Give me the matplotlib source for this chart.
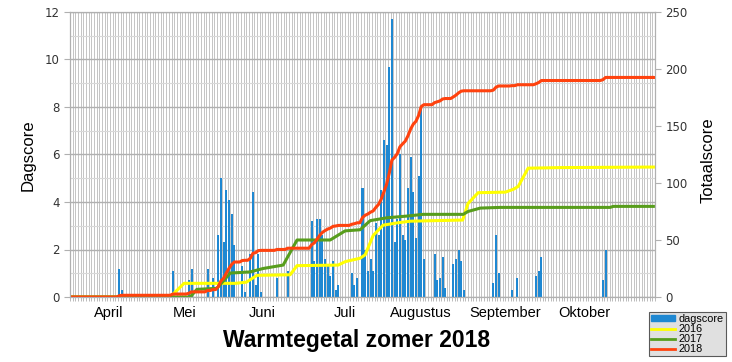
import numpy as np
import matplotlib
matplotlib.use("Agg")
from matplotlib import pyplot as plt
from matplotlib.patches import Patch
from matplotlib.lines import Line2D

#####################################################
#  data (day 0 = start of the x axis, end of March)
#####################################################
ndays = 219

# dagscore 2018 (bars)
bar_days = [18, 19, 38, 44, 45, 51, 53, 55, 56, 57, 58, 59, 60, 61,
            64, 65, 67, 68, 69, 70, 71, 77, 81,
            90, 91, 92, 93, 94, 95, 96, 97, 98, 99, 100,
            105, 106, 107, 109, 110, 111, 112, 113, 114, 115, 116, 117, 118, 119, 120,
            121, 122, 123, 124, 125, 126, 127, 128, 129, 130, 131, 132,
            136, 137, 138, 139, 140, 143, 144, 145, 146, 147,
            158, 159, 160, 165, 167, 174, 175, 176, 199, 200]
bar_score = [1.2, 0.3, 1.1, 0.7, 1.2, 1.2, 0.8, 2.6, 5.0, 2.3, 4.5, 4.1, 3.5, 2.2,
             1.3, 0.2, 1.8, 4.4, 0.5, 1.8, 0.2, 0.8, 1.1,
             3.2, 1.5, 3.3, 3.3, 2.6, 1.6, 1.3, 0.9, 1.5, 0.3, 0.5,
             1.0, 0.5, 0.8, 4.6, 2.0, 1.1, 1.6, 1.1, 3.1, 2.6, 4.5, 6.6, 6.4, 9.7, 11.7,
             2.3, 3.3, 6.0, 2.6, 2.4, 4.6, 5.9, 4.4, 2.5, 5.1, 7.9, 1.6,
             1.8, 0.7, 0.8, 1.7, 0.4, 1.4, 1.6, 2.0, 1.5, 0.3,
             0.6, 2.6, 1.0, 0.3, 0.8, 0.9, 1.1, 1.7, 0.7, 2.0]

# totaalscore 2016 and 2017
days_2016 = [0, 37.5, 42.7, 62, 66, 70, 82.4, 85, 100.4, 103, 108.6, 110.5, 113.5,
             117.2, 122.5, 127.3, 147, 149, 152.8, 163, 166, 167.8, 171.5, 183.5, 218.4]
tot_2016 = [0, 0, 12, 12, 13, 19, 19.5, 27.5, 28, 31, 34, 37, 54,
            63, 65, 66.5, 67.5, 82, 91.5, 92, 94.5, 97, 113, 113.5, 114]

days_2017 = [0, 45, 47.5, 55, 60, 67.4, 72.3, 79.8, 85, 97.4, 103, 108.6, 112.4,
             118.7, 126.2, 132.2, 147.2, 149, 153.6, 161, 202.2, 203.4, 218.4]
tot_2017 = [0, 0, 6.7, 7.6, 21, 22, 25, 28, 50, 50, 58, 59, 67,
            69.5, 71, 72.5, 72.5, 75, 78, 78.6, 78.6, 79.5, 79.5]

months = ["April", "Mei", "Juni", "Juli", "Augustus", "September", "Oktober"]
month_pos = [14.6, 43, 71.9, 103, 131.5, 162.9, 192.5]

# 2018 total = running sum of the daily scores
daily = np.zeros(ndays)
daily[bar_days] = bar_score
tot_2018 = np.cumsum(daily)

#####################################################
#  plot
#####################################################
blue = "#1f88d2"
yellow = "#ffff00"
green = "#579d1c"
red = "#ff420e"

fig = plt.figure(figsize=(7.32, 3.62), dpi=100)
ax = fig.add_axes([70/732, 1-297/362, 585/732, 285/362])
ax2 = ax.twinx()

# grid
ax.set_axisbelow(True)
for d in range(ndays + 1):
    ax.axvline(d, color="#c4c4c4", lw=0.7, zorder=0)
for v in range(0, 13):
    if v % 2 == 0:
        ax.axhline(v, color="#b0b0b0", lw=1.0, zorder=0)
    else:
        ax.axhline(v, color="#d8d8d8", lw=0.8, zorder=0)

ax.bar(np.array(bar_days) + 0.5, bar_score, width=0.75, color=blue, zorder=2)

x = np.arange(ndays) + 0.5
ax2.plot(days_2016, tot_2016, color=yellow, lw=2.2, solid_joinstyle="round")
ax2.plot(days_2017, tot_2017, color=green, lw=2.2, solid_joinstyle="round")
ax2.plot(np.r_[0, x, ndays - 0.6], np.r_[0, tot_2018, tot_2018[-1]], color=red, lw=2.2,
         solid_joinstyle="round")

ax.set_xlim(0, ndays)
ax.set_ylim(0, 12)
ax2.set_ylim(0, 250)
ax.set_yticks(range(0, 13, 2))
ax2.set_yticks(range(0, 251, 50))
ax.set_xticks(range(ndays + 1), minor=True)
ax.set_xticks([])
ax.tick_params(axis="x", which="minor", length=3, color="#b0b0b0", width=0.6)
ax.tick_params(axis="y", labelsize=8.5, labelcolor="#333333", color="#b0b0b0", length=4)
ax2.tick_params(axis="y", labelsize=8.5, labelcolor="#333333", color="#b0b0b0", length=4)
for sp in list(ax.spines.values()) + list(ax2.spines.values()):
    sp.set_color("#b0b0b0")

for m, p in zip(months, month_pos):
    ax.text(p, -0.03, m, transform=ax.get_xaxis_transform(), ha="center", va="top",
            fontsize=10.5, family="Liberation Sans")

fig.text(28/732, 1-155/362, "Dagscore", rotation=90, ha="center", va="center",
         fontsize=12, family="Liberation Sans")
fig.text(708/732, 1-160/362, "Totaalscore", rotation=90, ha="center", va="center",
         fontsize=12, family="Liberation Sans")
fig.text(357/732, 1-341/362, "Warmtegetal zomer 2018", ha="center", va="center",
         fontsize=16.5, fontweight="bold", family="Liberation Sans")

handles = [Patch(color=blue), Line2D([], [], color=yellow, lw=2),
           Line2D([], [], color=green, lw=2), Line2D([], [], color=red, lw=2)]
leg = fig.legend(handles, ["dagscore", "2016", "2017", "2018"], loc="upper left",
                 bbox_to_anchor=(649/732, 1-312/362), frameon=True,
                 fancybox=False, handlelength=2.2, handleheight=0.5,
                 borderpad=0.2, labelspacing=0.0, handletextpad=0.3,
                 borderaxespad=0, prop={"family": "Liberation Sans", "size": 7.8})
leg.get_frame().set_facecolor("#d9d9d9")
leg.get_frame().set_edgecolor("#333333")
leg.get_frame().set_linewidth(0.8)

plt.savefig("out.png", dpi=100)
